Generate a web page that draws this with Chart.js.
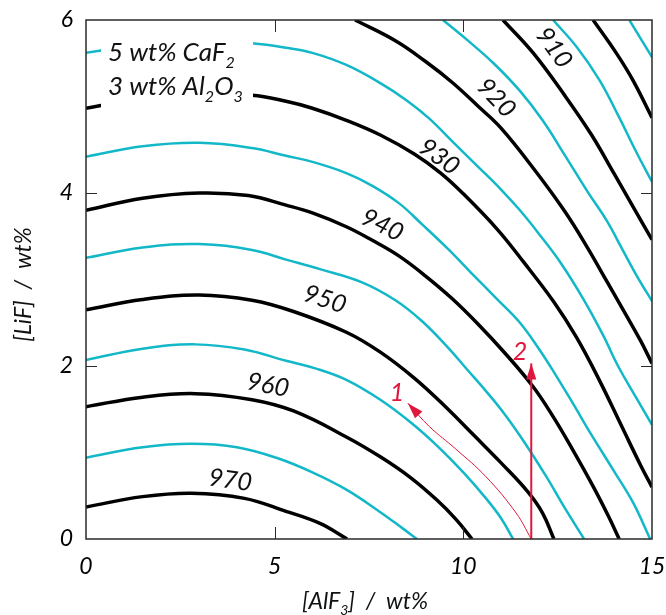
<!DOCTYPE html>
<html>
<head>
<meta charset="utf-8">
<script src="https://cdn.jsdelivr.net/npm/chart.js@4.4.0/dist/chart.umd.min.js"></script>
<style>
  html, body { margin: 0; padding: 0; background: #fff; }
</style>
</head>
<body>
<canvas id="liquidus" width="666" height="615"></canvas>
<script>
// isotherms with 3 wt% Al2O3 (black), points are [AlF3, LiF] in wt%
const black970 = [[0,0.37],[1.5,0.49],[2.8,0.53],[4.2,0.47],[5.3,0.32],[6.2,0.18],[6.92,0]];
const black960 = [[0,1.53],[1.5,1.64],[2.9,1.68],[4.4,1.61],[5.5,1.48],[6.9,1.18],[7.8,0.95],[8.6,0.71],[9.3,0.45],[9.8,0.23],[10.23,0]];
const black950 = [[0,2.65],[1.5,2.77],[3.0,2.82],[4.4,2.76],[5.5,2.63],[6.9,2.39],[7.8,2.16],[8.7,1.86],[9.5,1.54],[10.3,1.19],[11.0,0.88],[11.7,0.55],[12.1,0.3],[12.4,0]];
const black940 = [[0,3.8],[1.5,3.94],[3.0,4.0],[4.3,3.97],[5.3,3.86],[6.0,3.77],[6.9,3.61],[7.6,3.45],[8.3,3.27],[9.0,3.04],[9.7,2.78],[10.4,2.48],[11.1,2.15],[11.85,1.76],[12.4,1.4],[12.9,1.03],[13.45,0.6],[13.85,0.26],[14.13,0]];
const black930 = [[0,4.98],[2.4,5.16],[4.4,5.13],[5.3,5.06],[6.0,4.98],[6.9,4.84],[7.8,4.67],[8.7,4.45],[9.4,4.23],[10.0,3.99],[10.9,3.58],[11.6,3.2],[12.4,2.74],[13.0,2.33],[13.6,1.84],[14.2,1.3],[14.7,0.85],[15,0.6]];
const black920 = [[7.13,6],[8.2,5.76],[9.0,5.52],[9.7,5.28],[10.4,5.0],[11.0,4.75],[11.9,4.26],[12.7,3.78],[13.3,3.36],[13.8,2.98],[14.3,2.6],[14.7,2.29],[15,2.03]];
const black910 = [[11.05,6],[11.85,5.62],[12.7,5.12],[13.4,4.67],[14.0,4.22],[14.5,3.84],[15,3.46]];
const black900 = [[13.44,6],[14.05,5.62],[14.5,5.3],[15,4.87]];

// isotherms with 5 wt% CaF2 (cyan)
const cyan1 = [[0,0.94],[1.5,1.06],[2.8,1.1],[4.0,1.06],[5.1,0.93],[6.0,0.77],[6.9,0.57],[7.8,0.31],[8.4,0.12],[8.77,0]];
const cyan2 = [[0,2.07],[1.5,2.2],[2.9,2.25],[4.2,2.19],[5.3,2.06],[6.1,1.97],[6.9,1.84],[7.8,1.61],[8.6,1.35],[9.3,1.08],[10.0,0.77],[10.6,0.47],[11.0,0.24],[11.32,0]];
const cyan3 = [[0,3.25],[1.5,3.37],[3.0,3.41],[4.4,3.34],[5.3,3.23],[6.2,3.12],[7.3,2.97],[8.2,2.76],[8.9,2.52],[9.6,2.21],[10.1,1.96],[10.6,1.71],[11.1,1.44],[11.6,1.13],[12.2,0.72],[12.7,0.35],[13.2,0]];
const cyan4 = [[0,4.42],[1.5,4.54],[3.0,4.58],[4.4,4.52],[5.3,4.43],[6.0,4.36],[6.9,4.23],[7.6,4.08],[8.3,3.88],[8.9,3.64],[9.6,3.35],[10.2,3.08],[10.9,2.77],[11.5,2.5],[12.0,2.2],[12.4,1.93],[12.9,1.57],[13.4,1.2],[14.0,0.78],[14.5,0.42],[14.95,0]];
const cyan5 = [[0,5.62],[2.4,5.78],[4.4,5.73],[5.3,5.68],[6.0,5.62],[6.9,5.48],[7.8,5.27],[8.5,5.07],[9.1,4.86],[9.7,4.6],[10.4,4.3],[11.0,4.04],[11.5,3.8],[12.0,3.53],[12.6,3.18],[13.2,2.76],[13.7,2.36],[14.1,2.0],[14.6,1.62],[15,1.32]];
const cyan6 = [[9.46,6],[10.1,5.77],[10.8,5.5],[11.5,5.18],[12.1,4.84],[12.7,4.43],[13.3,4.01],[13.8,3.68],[14.2,3.36],[14.6,3.04],[15,2.75]];
const cyan7 = [[12.38,6],[13.0,5.69],[13.6,5.31],[14.1,4.9],[14.6,4.46],[15,4.13]];
const cyan8 = [[14.4,6],[15,5.57]];

// red composition paths
const path1 = [[11.8,0],[11.4,0.3],[10.6,0.72],[9.8,1.04],[9.1,1.3],[8.53,1.57]];
const path2 = [[11.8,0],[11.8,2.03]];

// isotherm labels
const isoText = ['970','960','950','940','930','920','910'];
const isoX = [3.82, 4.82, 6.33, 7.85, 9.36, 10.87, 12.4];
const isoY = [0.68, 1.78, 2.77, 3.63, 4.42, 5.1, 5.68];
const isoAngle = [8, 11, 18, 26, 36, 46, 54];

const pathText = ['1', '2'];
const pathTextX = [8.24, 11.5];
const pathTextY = [1.69, 2.16];

const BLACK = '#000000';
const CYAN = '#13b8c8';
const RED = '#e0173c';
const FONT = 'Lato, "Open Sans", sans-serif';

const toXY = (arr) => arr.map(p => ({x: p[0], y: p[1]}));

function curve(arr, color, width, order) {
	return {
		data: toXY(arr),
		showLine: true,
		borderColor: color,
		borderWidth: width,
		pointRadius: 0,
		tension: 0.4,
		order: order,
	};
}

// text with subscripts: parts = [[text, isSub], ...]
function drawRich(ctx, parts, x, y, size, align) {
	const sub = Math.round(size * 0.62);
	let w = 0;
	parts.forEach(([t, s]) => {
		ctx.font = 'italic ' + (s ? sub : size) + 'px ' + FONT;
		w += ctx.measureText(t).width;
	});
	let cx = align === 'center' ? x - w / 2 : x;
	ctx.textAlign = 'left';
	ctx.textBaseline = 'alphabetic';
	parts.forEach(([t, s]) => {
		ctx.font = 'italic ' + (s ? sub : size) + 'px ' + FONT;
		ctx.fillText(t, cx, s ? y + size * 0.25 : y);
		cx += ctx.measureText(t).width;
	});
}

function arrowHead(ctx, tx, ty, fx, fy, len, half) {
	const a = Math.atan2(ty - fy, tx - fx);
	ctx.save();
	ctx.translate(tx, ty);
	ctx.rotate(a);
	ctx.beginPath();
	ctx.moveTo(0, 0);
	ctx.lineTo(-len, -half);
	ctx.lineTo(-len, half);
	ctx.closePath();
	ctx.fill();
	ctx.restore();
}

const decor = {
	id: 'decor',
	afterDatasetsDraw(chart) {
		const {ctx, chartArea: a, scales: {x, y}} = chart;
		ctx.save();

		// frame and inward ticks
		ctx.strokeStyle = '#2a2a2a';
		ctx.lineWidth = 1.5;
		ctx.strokeRect(a.left, a.top, a.right - a.left, a.bottom - a.top);
		ctx.lineWidth = 1;
		ctx.beginPath();
		[5, 10].forEach(v => {
			const px = Math.round(x.getPixelForValue(v)) + 0.5;
			ctx.moveTo(px, a.bottom); ctx.lineTo(px, a.bottom - 12);
			ctx.moveTo(px, a.top); ctx.lineTo(px, a.top + 12);
		});
		[2, 4].forEach(v => {
			const py = Math.round(y.getPixelForValue(v)) + 0.5;
			ctx.moveTo(a.left, py); ctx.lineTo(a.left + 11, py);
			ctx.moveTo(a.right, py); ctx.lineTo(a.right - 11, py);
		});
		ctx.stroke();

		// legend sits on the two top-left lines
		ctx.fillStyle = '#fff';
		ctx.fillRect(a.left + 15, a.top + 6, 152, 84);
		ctx.fillStyle = '#111';
		drawRich(ctx, [['5 wt% CaF', false], ['2', true]], a.left + 22, a.top + 41, 26, 'left');
		drawRich(ctx, [['3 wt% Al', false], ['2', true], ['O', false], ['3', true]], a.left + 22, a.top + 75, 26, 'left');

		// isotherm labels
		ctx.font = 'italic 25px ' + FONT;
		ctx.textAlign = 'center';
		ctx.textBaseline = 'middle';
		isoText.forEach((t, i) => {
			ctx.save();
			ctx.translate(x.getPixelForValue(isoX[i]), y.getPixelForValue(isoY[i]));
			ctx.rotate(isoAngle[i] * Math.PI / 180);
			ctx.fillText(t, 0, 0);
			ctx.restore();
		});

		// arrow heads and numbers
		ctx.fillStyle = RED;
		[path1, path2].forEach(p => {
			const n = p.length;
			arrowHead(ctx,
				x.getPixelForValue(p[n - 1][0]), y.getPixelForValue(p[n - 1][1]),
				x.getPixelForValue(p[n - 2][0]), y.getPixelForValue(p[n - 2][1]),
				16, 5);
		});
		ctx.font = 'italic 25px ' + FONT;
		pathText.forEach((t, i) => {
			ctx.fillText(t, x.getPixelForValue(pathTextX[i]), y.getPixelForValue(pathTextY[i]));
		});

		// axis titles
		ctx.fillStyle = '#111';
		drawRich(ctx, [['[AlF', false], ['3', true], [']  /  wt%', false]], (a.left + a.right) / 2 - 4, a.bottom + 70, 23, 'center');
		ctx.save();
		ctx.translate(31, (a.top + a.bottom) / 2 + 5);
		ctx.rotate(-Math.PI / 2);
		drawRich(ctx, [['[LiF]  /  wt%', false]], 0, 0, 23, 'center');
		ctx.restore();

		ctx.restore();
	}
};

const tickFont = {family: FONT, size: 23, style: 'italic'};

new Chart(document.getElementById('liquidus'), {
	type: 'scatter',
	data: {
		datasets: [
			curve(path1, RED, 1, 0),
			curve(path2, RED, 2, 0),
			curve(black970, BLACK, 3.5, 1),
			curve(black960, BLACK, 3.5, 1),
			curve(black950, BLACK, 3.5, 1),
			curve(black940, BLACK, 3.5, 1),
			curve(black930, BLACK, 3.5, 1),
			curve(black920, BLACK, 3.5, 1),
			curve(black910, BLACK, 3.5, 1),
			curve(black900, BLACK, 3.5, 1),
			curve(cyan1, CYAN, 2.5, 2),
			curve(cyan2, CYAN, 2.5, 2),
			curve(cyan3, CYAN, 2.5, 2),
			curve(cyan4, CYAN, 2.5, 2),
			curve(cyan5, CYAN, 2.5, 2),
			curve(cyan6, CYAN, 2.5, 2),
			curve(cyan7, CYAN, 2.5, 2),
			curve(cyan8, CYAN, 2.5, 2),
		],
	},
	options: {
		responsive: false,
		animation: false,
		devicePixelRatio: 1,
		layout: {padding: {top: 20, right: 14, left: 0, bottom: 0}},
		plugins: {legend: {display: false}, tooltip: {enabled: false}},
		scales: {
			x: {
				type: 'linear', min: 0, max: 15,
				grid: {display: false, drawTicks: false},
				border: {display: false},
				ticks: {stepSize: 5, font: tickFont, color: '#000', padding: 14},
				afterFit: (s) => { s.height = 76; s.paddingLeft = 0; s.paddingRight = 0; },
			},
			y: {
				type: 'linear', min: 0, max: 6,
				grid: {display: false, drawTicks: false},
				border: {display: false},
				ticks: {stepSize: 2, font: tickFont, color: '#000', padding: 13},
				afterFit: (s) => { s.width = 86; s.paddingTop = 0; s.paddingBottom = 0; },
			},
		},
	},
	plugins: [decor],
});
</script>
</body>
</html>
